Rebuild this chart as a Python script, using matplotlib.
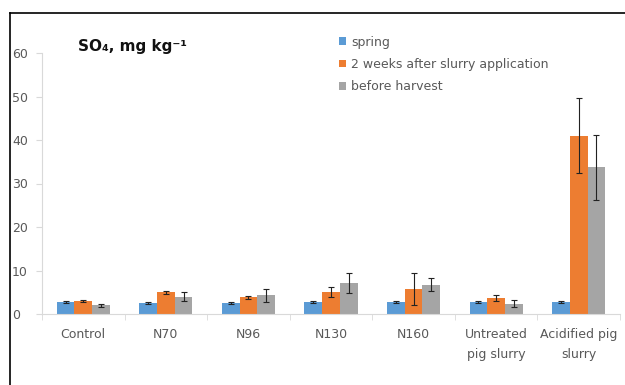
import numpy as np
import matplotlib
matplotlib.use("Agg")
import matplotlib.pyplot as plt
from matplotlib.lines import Line2D

plt.rcParams["font.family"] = ["DejaVu Sans"]

categories = ["Control", "N70", "N96", "N130", "N160", "Untreated\npig slurry", "Acidified pig\nslurry"]
series_names = ["spring", "2 weeks after slurry application", "before harvest"]
spring = [2.7, 2.6, 2.6, 2.7, 2.7, 2.7, 2.7]
spring_err = [0.2, 0.2, 0.2, 0.2, 0.2, 0.2, 0.2]
two_weeks = [3.0, 5.0, 3.8, 5.1, 5.7, 3.7, 41.0]
two_weeks_err = [0.2, 0.3, 0.3, 1.2, 3.7, 0.6, 8.6]
harvest = [2.0, 4.0, 4.3, 7.1, 6.7, 2.4, 33.7]
harvest_err = [0.3, 1.1, 1.5, 2.3, 1.5, 0.8, 7.4]
yticks = [0, 10, 20, 30, 40, 50, 60]

colors = ["#5B9BD5", "#ED7D31", "#A5A5A5"]
axis_grey = "#D9D9D9"
text_grey = "#595959"

fig = plt.figure(figsize=(6.25, 3.85), dpi=100)
ax = fig.add_axes([42 / 625, 1 - 314 / 385, (620 - 42) / 625, (314 - 53) / 385])

x = np.arange(len(categories))
w = 0.215
for i, (vals, errs) in enumerate([(spring, spring_err), (two_weeks, two_weeks_err), (harvest, harvest_err)]):
    ax.bar(x + (i - 1) * w, vals, width=w, color=colors[i], label=series_names[i],
           yerr=errs, error_kw=dict(ecolor="#222222", elinewidth=0.8, capsize=2.5, capthick=0.8))

ax.set_xlim(-0.5, len(categories) - 0.5)
ax.set_ylim(0, 60)
ax.set_yticks(yticks)
ax.set_xticks(x)
ax.set_xticklabels(categories, fontsize=9, color=text_grey, linespacing=1.75)
ax.set_xticks(np.arange(len(categories) + 1) - 0.5, minor=True)
ax.tick_params(axis="x", which="major", length=0, pad=10)
ax.tick_params(axis="x", which="minor", length=4, color=axis_grey)
ax.tick_params(axis="y", length=4, color=axis_grey, labelsize=9, labelcolor=text_grey)
for lab in ax.get_yticklabels():
    lab.set_horizontalalignment("left")
ax.yaxis.set_tick_params(pad=17.5)

for s in ["top", "right"]:
    ax.spines[s].set_visible(False)
ax.spines["left"].set_color(axis_grey)
ax.spines["bottom"].set_color(axis_grey)

ax.legend(loc="upper left", bbox_to_anchor=(0.495, 1.11), frameon=False, fontsize=9,
          handlelength=0.55, handleheight=0.55, handletextpad=0.4, labelspacing=0.75,
          labelcolor=text_grey)

fig.text(78 / 625, 1 - 46 / 385, "SO₄, mg kg⁻¹", fontsize=11, fontweight="bold",
         color="#111111", va="center")

# outer frame (partially cut off by the image edge)
fig.add_artist(Line2D([10 / 625, 1.02], [1 - 13 / 385, 1 - 13 / 385], color="black", lw=1.2))
fig.add_artist(Line2D([10 / 625, 10 / 625], [1 - 13 / 385, -0.02], color="black", lw=1.2))

fig.savefig("out.png", dpi=100)
